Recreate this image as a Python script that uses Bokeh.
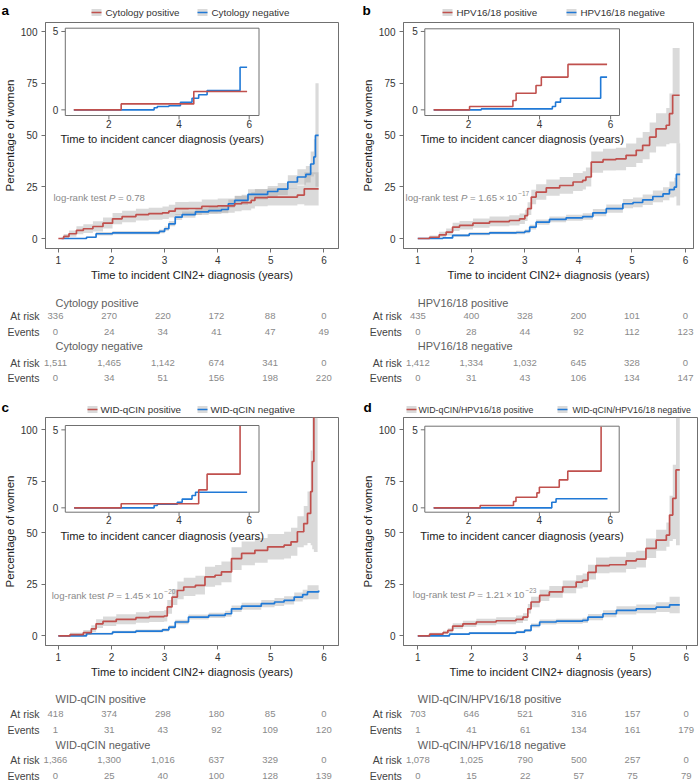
import math
from bokeh.plotting import figure
from bokeh.models import Range1d, FixedTicker
from bokeh.layouts import column, row
from bokeh.embed import file_html
from bokeh.resources import INLINE
from bokeh.core.properties import value

FONT = "Liberation Sans"
RED = "#c0504d"
BLUE = "#2079d6"
BAND = "#a8a8a8"
AXC = "#707070"

# ---------------- data ----------------
main_xticks = [1, 2, 3, 4, 5, 6]
main_yticks = [0, 25, 50, 75, 100]
inset_xticks = [2, 4, 6]
inset_yticks = [0, 5]
risk_times = [1, 2, 3, 4, 5, 6]

# panel a: cytology
cyto_labels = ["Cytology positive", "Cytology negative"]
cyto_pos_x = [1.0, 1.1, 1.2, 1.34, 1.47, 1.65, 1.84, 2.02, 2.2, 2.46, 2.7, 2.96, 3.08, 3.2, 3.45, 3.7, 4.0, 4.32, 4.45, 4.63, 4.7, 4.94, 5.5, 5.63, 5.9]
cyto_pos_y = [0, 1.0, 2.3, 3.9, 4.7, 5.8, 7.4, 9.5, 10.6, 11.5, 12.0, 12.4, 13.2, 14.4, 14.5, 15.5, 15.8, 16.8, 17.3, 18.4, 19.7, 20.0, 21.0, 24.0, 24.0]
cyto_pos_lo = [0, 0, 0.8, 2.0, 2.6, 3.4, 4.8, 6.9, 7.9, 8.7, 9.1, 9.4, 10.1, 11.3, 11.4, 12.2, 12.4, 13.2, 13.6, 14.5, 15.6, 15.9, 16.5, 16.0, 16.0]
cyto_pos_hi = [0, 2.2, 3.9, 5.9, 6.9, 8.3, 10.1, 12.3, 13.4, 14.4, 14.9, 15.4, 16.3, 17.6, 17.7, 18.9, 19.3, 20.5, 21.1, 22.4, 23.9, 24.3, 25.6, 32.0, 32.0]
cyto_neg_x = [1.06, 1.53, 1.71, 2.02, 2.9, 3.0, 3.08, 3.2, 3.33, 3.58, 3.83, 4.07, 4.2, 4.32, 4.57, 4.94, 5.13, 5.32, 5.5, 5.66, 5.75, 5.81, 5.84, 5.9]
cyto_neg_y = [0, 0.6, 2.3, 2.7, 3.4, 4.7, 7.1, 10.3, 11.5, 12.9, 13.5, 14.0, 16.8, 18.4, 21.3, 22.7, 23.9, 27.3, 29.7, 31.0, 36.0, 39.4, 49.8, 49.8]
cyto_neg_lo = [0, 0.2, 1.5, 1.9, 2.5, 3.7, 5.9, 8.9, 10.0, 11.3, 11.8, 12.2, 14.8, 16.2, 18.8, 20.0, 21.0, 24.0, 26.0, 27.0, 30.0, 31.0, 25.0, 25.0]
cyto_neg_hi = [0, 1.0, 3.2, 3.6, 4.4, 5.8, 8.4, 11.8, 13.0, 14.6, 15.3, 15.9, 18.9, 20.6, 23.8, 25.4, 26.8, 30.6, 33.5, 35.0, 42.0, 48.0, 75.0, 75.0]
cyto_inset_pos_x = [1.0, 2.35, 4.42, 5.94]
cyto_inset_pos_y = [0, 0.38, 1.17, 1.17]
cyto_inset_neg_x = [1.0, 3.29, 3.38, 3.71, 4.04, 4.37, 4.56, 4.8, 5.74, 5.94]
cyto_inset_neg_y = [0, 0.13, 0.21, 0.26, 0.49, 0.74, 0.96, 1.23, 2.72, 2.72]
cyto_pos_at_risk = [336, 270, 220, 172, 88, 0]
cyto_pos_events = [0, 24, 34, 41, 47, 49]
cyto_neg_at_risk = [1511, 1465, 1142, 674, 341, 0]
cyto_neg_events = [0, 34, 51, 156, 198, 220]
cyto_p = ("0.78", None)

# panel b: HPV16/18
hpv_labels = ["HPV16/18 positive", "HPV16/18 negative"]
hpv_pos_x = [1.0, 1.22, 1.4, 1.53, 1.65, 1.78, 2.03, 2.34, 2.71, 2.9, 3.0, 3.05, 3.12, 3.21, 3.4, 3.65, 3.9, 4.08, 4.14, 4.24, 4.46, 4.7, 4.89, 5.08, 5.2, 5.33, 5.45, 5.64, 5.7, 5.76, 5.89]
hpv_pos_y = [0, 0.6, 1.8, 3.1, 5.5, 6.3, 7.4, 8.2, 8.7, 9.5, 11.1, 14.4, 20.0, 22.4, 24.5, 25.6, 27.3, 28.1, 29.7, 36.9, 38.1, 38.5, 40.2, 42.6, 45.0, 49.0, 53.0, 54.7, 60.3, 69.2, 69.2]
hpv_pos_lo = [0, 0, 0.5, 1.5, 3.6, 4.3, 5.2, 5.9, 6.3, 7.0, 8.4, 11.4, 16.5, 18.7, 20.6, 21.6, 23.0, 23.7, 25.1, 31.8, 32.8, 33.0, 34.5, 36.5, 38.3, 41.5, 44.5, 45.5, 46.0, 46.0, 46.0]
hpv_pos_hi = [0, 1.5, 3.3, 4.8, 7.6, 8.5, 9.7, 10.6, 11.2, 12.1, 13.9, 17.5, 23.5, 26.2, 28.5, 29.7, 31.6, 32.5, 34.3, 42.0, 43.4, 43.9, 45.9, 48.7, 51.5, 56.0, 60.5, 63.0, 70.0, 92.0, 92.0]
hpv_neg_x = [1.0, 1.47, 1.65, 1.96, 2.34, 2.84, 3.0, 3.09, 3.21, 3.46, 3.77, 4.08, 4.27, 4.52, 4.83, 5.02, 5.2, 5.39, 5.58, 5.7, 5.79, 5.83, 5.9]
hpv_neg_y = [0, 0.3, 1.5, 2.3, 2.7, 2.9, 3.4, 5.5, 7.9, 9.2, 10.0, 10.6, 12.4, 14.4, 16.8, 17.4, 18.7, 20.3, 21.6, 23.6, 24.8, 31.0, 31.0]
hpv_neg_lo = [0, 0, 0.9, 1.6, 2.0, 2.1, 2.5, 4.4, 6.6, 7.8, 8.6, 9.1, 10.7, 12.5, 14.6, 15.1, 16.2, 17.5, 18.5, 19.8, 20.3, 16.0, 16.0]
hpv_neg_hi = [0, 0.6, 2.1, 3.0, 3.5, 3.7, 4.3, 6.6, 9.2, 10.6, 11.5, 12.2, 14.2, 16.4, 19.1, 19.8, 21.3, 23.2, 24.8, 27.5, 29.4, 46.0, 46.0]
hpv_inset_pos_x = [1.02, 2.03, 3.25, 3.34, 3.9, 4.05, 4.8, 5.9]
hpv_inset_pos_y = [0, 0.21, 0.6, 1.06, 1.55, 2.09, 2.9, 2.9]
hpv_inset_neg_x = [1.02, 2.36, 4.36, 4.45, 4.59, 5.72, 5.9]
hpv_inset_neg_y = [0, 0.06, 0.21, 0.49, 0.74, 2.09, 2.09]
hpv_pos_at_risk = [435, 400, 328, 200, 101, 0]
hpv_pos_events = [0, 28, 44, 92, 112, 123]
hpv_neg_at_risk = [1412, 1334, 1032, 645, 328, 0]
hpv_neg_events = [0, 31, 43, 106, 134, 147]
hpv_p = ("1.65\u2009\u00d7\u200910", "\u221217")

# panel c: WID-qCIN
wid_labels = ["WID-qCIN positive", "WID-qCIN negative"]
wid_pos_x = [1.0, 1.22, 1.47, 1.62, 1.71, 1.84, 2.09, 2.46, 2.71, 2.99, 3.05, 3.14, 3.24, 3.36, 3.58, 3.76, 3.95, 4.07, 4.26, 4.45, 4.7, 4.94, 5.25, 5.38, 5.5, 5.62, 5.69, 5.75, 5.78, 5.81, 5.88]
wid_pos_y = [0, 0.6, 1.5, 3.4, 5.8, 7.0, 8.0, 8.8, 9.3, 9.6, 14.0, 18.8, 22.0, 23.7, 24.5, 28.6, 29.4, 31.0, 37.5, 40.0, 41.5, 43.2, 44.0, 45.6, 50.5, 54.5, 59.4, 70.0, 84.6, 110.0, 110.0]
wid_pos_lo = [0, 0, 0.4, 1.8, 3.8, 4.8, 5.6, 6.3, 6.7, 6.9, 10.7, 15.0, 17.8, 19.3, 20.0, 23.8, 24.5, 26.0, 32.0, 34.2, 35.5, 37.0, 37.5, 38.8, 43.0, 44.0, 45.0, 44.0, 42.0, 40.7, 40.7]
wid_pos_hi = [0, 1.5, 2.8, 5.1, 8.0, 9.4, 10.5, 11.4, 12.0, 12.4, 17.4, 22.7, 26.3, 28.2, 29.1, 33.5, 34.4, 36.1, 43.0, 45.8, 47.5, 49.4, 50.5, 52.4, 58.0, 63.0, 70.0, 90.0, 110.0, 110.0, 110.0]
wid_neg_x = [1.0, 1.53, 2.02, 2.46, 2.96, 3.08, 3.2, 3.45, 3.83, 4.14, 4.26, 4.45, 4.82, 5.07, 5.25, 5.44, 5.6, 5.69, 5.9]
wid_neg_y = [0, 1.0, 1.8, 2.3, 2.9, 4.2, 6.7, 9.1, 9.9, 10.7, 13.1, 14.4, 15.6, 16.4, 17.2, 18.8, 20.0, 21.3, 22.0]
wid_neg_lo = [0, 0.5, 1.2, 1.6, 2.1, 3.3, 5.6, 7.9, 8.6, 9.3, 11.5, 12.7, 13.8, 14.5, 15.2, 16.6, 17.6, 17.8, 17.5]
wid_neg_hi = [0, 1.5, 2.4, 3.0, 3.7, 5.1, 7.8, 10.3, 11.2, 12.1, 14.7, 16.1, 17.4, 18.3, 19.2, 21.0, 22.4, 24.5, 27.0]
wid_inset_pos_x = [1.01, 2.35, 4.56, 4.8, 5.74]
wid_inset_pos_y = [0, 0.26, 1.15, 2.16, 5.25]
wid_inset_neg_x = [1.01, 3.29, 3.38, 3.95, 4.09, 4.37, 4.47, 5.94]
wid_inset_neg_y = [0, 0.15, 0.23, 0.36, 0.56, 0.79, 1.0, 1.0]
wid_pos_at_risk = [418, 374, 298, 180, 85, 0]
wid_pos_events = [1, 31, 43, 92, 109, 120]
wid_neg_at_risk = [1366, 1300, 1016, 637, 329, 0]
wid_neg_events = [0, 25, 40, 100, 128, 139]
wid_p = ("1.45\u2009\u00d7\u200910", "\u221220")

# panel d: WID-qCIN/HPV16/18
comb_labels = ["WID-qCIN/HPV16/18 positive", "WID-qCIN/HPV16/18 negative"]
comb_pos_x = [1.0, 1.22, 1.47, 1.56, 1.65, 1.84, 2.09, 2.46, 2.83, 2.96, 3.05, 3.11, 3.27, 3.45, 3.7, 3.95, 4.07, 4.17, 4.32, 4.57, 4.88, 5.07, 5.25, 5.44, 5.63, 5.69, 5.75, 5.81, 5.88]
comb_pos_y = [0, 0.8, 1.5, 2.6, 4.7, 5.8, 6.7, 7.3, 8.0, 9.1, 13.1, 16.4, 19.6, 21.3, 23.7, 26.1, 26.9, 30.8, 34.1, 34.5, 36.4, 37.2, 42.4, 46.4, 48.9, 58.6, 66.7, 80.5, 80.5]
comb_pos_lo = [0, 0.2, 0.7, 1.5, 3.3, 4.3, 5.1, 5.6, 6.2, 7.2, 10.8, 13.9, 16.9, 18.5, 20.7, 22.9, 23.6, 27.3, 30.4, 30.7, 32.4, 33.1, 37.8, 41.3, 43.2, 46.0, 47.0, 44.0, 44.0]
comb_pos_hi = [0, 1.5, 2.4, 3.7, 6.1, 7.3, 8.3, 9.0, 9.8, 11.0, 15.4, 19.0, 22.4, 24.2, 26.8, 29.4, 30.3, 34.5, 38.0, 38.4, 40.5, 41.3, 47.2, 51.5, 55.0, 68.0, 83.0, 110.0, 110.0]
comb_neg_x = [1.0, 1.59, 1.96, 2.83, 2.99, 3.11, 3.27, 3.58, 4.07, 4.17, 4.45, 4.7, 5.07, 5.44, 5.69, 5.88]
comb_neg_y = [0, 0.8, 1.3, 1.8, 2.6, 5.0, 6.7, 7.1, 7.5, 9.1, 10.7, 12.3, 13.1, 13.9, 15.0, 15.0]
comb_neg_lo = [0, 0.4, 0.8, 1.2, 1.9, 4.0, 5.5, 5.9, 6.2, 7.6, 9.0, 10.3, 11.0, 11.5, 11.0, 11.0]
comb_neg_hi = [0, 1.2, 1.8, 2.4, 3.3, 6.0, 7.9, 8.3, 8.8, 10.6, 12.4, 14.3, 15.2, 16.3, 19.0, 19.0]
comb_inset_pos_x = [1.02, 2.33, 3.27, 3.34, 3.93, 4.0, 4.56, 4.8, 5.74]
comb_inset_pos_y = [0, 0.15, 0.41, 0.68, 0.96, 1.32, 1.79, 2.35, 5.2]
comb_inset_neg_x = [1.02, 4.35, 4.47, 5.92]
comb_inset_neg_y = [0, 0.36, 0.58, 0.58]
comb_pos_at_risk = [703, 646, 521, 316, 157, 0]
comb_pos_events = [1, 41, 61, 134, 161, 179]
comb_neg_at_risk = [1078, 1025, 790, 500, 257, 0]
comb_neg_events = [0, 15, 22, 57, 75, 79]
comb_p = ("1.21\u2009\u00d7\u200910", "\u221223")

# ---------------- layout (page pixels) ----------------
CW = {" ": 278, "\u2009": 200, "-": 333, ".": 278, ",": 278, "=": 584, "\u00d7": 584, "\u2212": 584,
      "l": 222, "i": 222, "o": 556, "g": 556, "r": 333, "a": 556, "n": 556, "k": 500,
      "t": 278, "e": 556, "s": 500, "P": 667}


def tw(s, size):
    return sum(CW.get(c, 556) for c in s) * size / 1000.0


panels = [
    dict(letter="a", labels=cyto_labels,
         pos=(cyto_pos_x, cyto_pos_y, cyto_pos_lo, cyto_pos_hi),
         neg=(cyto_neg_x, cyto_neg_y, cyto_neg_lo, cyto_neg_hi),
         ipos=(cyto_inset_pos_x, cyto_inset_pos_y), ineg=(cyto_inset_neg_x, cyto_inset_neg_y),
         risk=(cyto_pos_at_risk, cyto_pos_events, cyto_neg_at_risk, cyto_neg_events), pval=cyto_p,
         borders=(42, 11, 2, 42), frame=(296, 226), xr=(0.7577, 6.274), yr=(-4.83, 104.35),
         box=(20, 215.7, 5.7, 93), ix=(0.757, 6.28), iy=(-0.36, 5.21),
         head_h=20, leg=(91, 105, 197, 211, 12, "9.8px"), tag=(0, 9.5),
         pxy=(8, 175), tab_h=103, tab_rows=[12, 25, 41, 55, 72, 87]),
    dict(letter="b", labels=hpv_labels,
         pos=(hpv_pos_x, hpv_pos_y, hpv_pos_lo, hpv_pos_hi),
         neg=(hpv_neg_x, hpv_neg_y, hpv_neg_lo, hpv_neg_hi),
         ipos=(hpv_inset_pos_x, hpv_inset_pos_y), ineg=(hpv_inset_neg_x, hpv_inset_neg_y),
         risk=(hpv_pos_at_risk, hpv_pos_events, hpv_neg_at_risk, hpv_neg_events), pval=hpv_p,
         borders=(54, 6, 2, 42), frame=(290, 226), xr=(0.7329, 6.1494), yr=(-4.83, 104.35),
         box=(21.3, 216, 6.3, 93), ix=(0.77, 6.25), iy=(-0.36, 5.17),
         head_h=20, leg=(93, 107, 217, 231, 12, "9.8px"), tag=(12, 9.5),
         pxy=(2, 175), tab_h=103, tab_rows=[12, 25, 41, 55, 72, 87]),
    dict(letter="c", labels=wid_labels,
         pos=(wid_pos_x, wid_pos_y, wid_pos_lo, wid_pos_hi),
         neg=(wid_neg_x, wid_neg_y, wid_neg_lo, wid_neg_hi),
         ipos=(wid_inset_pos_x, wid_inset_pos_y), ineg=(wid_inset_neg_x, wid_inset_neg_y),
         risk=(wid_pos_at_risk, wid_pos_events, wid_neg_at_risk, wid_neg_events), pval=wid_p,
         borders=(42, 11, 2, 43), frame=(296, 228), xr=(0.7577, 6.274), yr=(-4.71, 105.97),
         box=(20, 215.7, 8, 94.7), ix=(0.757, 6.28), iy=(-0.28, 5.28),
         head_h=22, leg=(87, 100, 197, 210, 16, "9.8px"), tag=(0, 13.5),
         pxy=(6.3, 178), tab_h=95, tab_rows=[10, 25, 41, 56, 71, 87]),
    dict(letter="d", labels=comb_labels,
         pos=(comb_pos_x, comb_pos_y, comb_pos_lo, comb_pos_hi),
         neg=(comb_neg_x, comb_neg_y, comb_neg_lo, comb_neg_hi),
         ipos=(comb_inset_pos_x, comb_inset_pos_y), ineg=(comb_inset_neg_x, comb_inset_neg_y),
         risk=(comb_pos_at_risk, comb_pos_events, comb_neg_at_risk, comb_neg_events), pval=comb_p,
         borders=(54, 2, 2, 43), frame=(294, 228), xr=(0.7336, 6.2105), yr=(-4.71, 105.97),
         box=(21.3, 215.7, 8.7, 94.7), ix=(0.77, 6.25), iy=(-0.28, 5.23),
         head_h=22, leg=(57, 69, 208, 223, 16, "8.8px"), tag=(13, 13.5),
         pxy=(9.3, 177.3), tab_h=95, tab_rows=[10, 25, 41, 56, 71, 87]),
]


def txt(p, x, y, text, size, color, align="left", baseline="middle", style="normal", **kw):
    return p.text(x=x, y=y, text=text, text_font=value(FONT), text_font_size=size,
                  text_color=color, text_align=align, text_baseline=baseline,
                  text_font_style=style, **kw)


def plain_fig(w, h, xr, yr):
    return figure(width=w, height=h, x_range=xr, y_range=yr,
                  toolbar_location=None, output_backend="svg", min_border=0,
                  x_axis_type=None, y_axis_type=None, outline_line_color=None,
                  background_fill_color="white", border_fill_color="white")


def make_header(cfg):
    bl, br, bt, bb = cfg["borders"]
    W, H = cfg["frame"]
    w = bl + W + br
    hh = cfg["head_h"]
    hd = plain_fig(w, hh, Range1d(0, w), Range1d(hh, 0))
    tx, ty = cfg["tag"]
    txt(hd, [tx + 1], [ty], [cfg["letter"]], "13.5px", "black", baseline="middle", style="bold")
    s1, t1, s2, t2, cy, fs = cfg["leg"]
    for sx, tx_, lab, col in ((s1, t1, cfg["labels"][0], RED), (s2, t2, cfg["labels"][1], BLUE)):
        hd.rect(x=[sx + 5], y=[cy], width=10, height=7, fill_color=BAND, fill_alpha=0.42, line_color=None)
        hd.segment(x0=[sx], x1=[sx + 10], y0=[cy], y1=[cy], line_color=col, line_width=1.7)
        txt(hd, [tx_], [cy], [lab], fs, "#333333")
    return hd


def make_main(cfg):
    bl, br, bt, bb = cfg["borders"]
    W, H = cfg["frame"]
    x0, x1 = cfg["xr"]
    y0, y1 = cfg["yr"]
    p = figure(width=bl + W + br, height=bt + H + bb,
               x_range=Range1d(x0, x1), y_range=Range1d(y0, y1),
               toolbar_location=None, output_backend="svg",
               min_border_left=bl, min_border_right=br, min_border_top=bt, min_border_bottom=bb,
               background_fill_color="white", border_fill_color="white")
    p.outline_line_color = AXC
    p.grid.visible = False
    p.xaxis.ticker = FixedTicker(ticks=main_xticks)
    p.yaxis.ticker = FixedTicker(ticks=main_yticks)
    for ax in (p.xaxis, p.yaxis):
        ax.axis_line_color = AXC
        ax.major_tick_line_color = AXC
        ax.major_tick_out = 4
        ax.major_tick_in = 0
        ax.minor_tick_line_color = None
        ax.major_label_text_font = FONT
        ax.major_label_text_font_size = "10px"
        ax.major_label_text_color = "#333333"
        ax.axis_label_text_font = FONT
        ax.axis_label_text_font_style = "normal"
        ax.axis_label_text_color = "#222222"
        ax.axis_label_standoff = 2
    p.xaxis.major_label_standoff = 3
    p.yaxis.major_label_standoff = 4
    p.xaxis.axis_label = "Time to incident CIN2+ diagnosis (years)"
    p.xaxis.axis_label_text_font_size = "11.2px"
    p.yaxis.axis_label = "Percentage of women"
    p.yaxis.axis_label_text_font_size = "11.5px"

    px_, py_, plo, phi = cfg["pos"]
    nx_, ny_, nlo, nhi = cfg["neg"]
    p.varea_step(x=px_, y1=plo, y2=phi, step_mode="after", fill_color=BAND, fill_alpha=0.42)
    p.varea_step(x=nx_, y1=nlo, y2=nhi, step_mode="after", fill_color=BAND, fill_alpha=0.42)
    p.step(nx_, ny_, mode="after", line_color=BLUE, line_width=1.7)
    p.step(px_, py_, mode="after", line_color=RED, line_width=1.7)

    # inset drawn with its own ranges
    L, R, T, B = cfg["box"]
    ix0, ix1 = cfg["ix"]
    iy0, iy1 = cfg["iy"]
    sx = (ix1 - ix0) / (R - L)
    sy = (iy1 - iy0) / (B - T)
    p.extra_x_ranges = {"ix": Range1d(ix0 - L * sx, ix1 + (W - R) * sx)}
    p.extra_y_ranges = {"iy": Range1d(iy0 - (H - B) * sy, iy1 + T * sy)}
    rn = dict(x_range_name="ix", y_range_name="iy")
    p.quad(left=[ix0], right=[ix1], bottom=[iy0], top=[iy1], fill_color="white",
           line_color=AXC, line_width=1, **rn)
    p.segment(x0=[ix0] * len(inset_yticks), x1=[ix0 - 4 * sx] * len(inset_yticks),
              y0=inset_yticks, y1=inset_yticks, line_color=AXC, line_width=1, **rn)
    p.segment(x0=inset_xticks, x1=inset_xticks, y0=[iy0] * len(inset_xticks),
              y1=[iy0 - 4 * sy] * len(inset_xticks), line_color=AXC, line_width=1, **rn)
    txt(p, [ix0] * len(inset_yticks), inset_yticks, [str(t) for t in inset_yticks], "10px", "#333333",
        align="right", x_offset=-7, **rn)
    txt(p, inset_xticks, [iy0] * len(inset_xticks), [str(t) for t in inset_xticks], "10px", "#333333",
        align="center", baseline="top", y_offset=4, **rn)
    txt(p, [(ix0 + ix1) / 2], [iy0], ["Time to incident cancer diagnosis (years)"], "11.2px", "#222222",
        align="center", y_offset=23.5, **rn)
    inx, iny = cfg["ineg"]
    ipx, ipy = cfg["ipos"]
    p.step(inx, iny, mode="after", line_color=BLUE, line_width=1.6, **rn)
    p.step(ipx, ipy, mode="after", line_color=RED, line_width=1.6, **rn)

    # log-rank annotation
    dx, dy = cfg["pxy"]
    bx = x0 + dx * (x1 - x0) / W
    by = y1 - dy * (y1 - y0) / H
    fs = 9.6
    fss = "9.6px"
    gray = "#8a8a8a"
    txt(p, [bx], [by], ["log-rank test"], fss, gray)
    o = tw("log-rank test ", fs)
    txt(p, [bx], [by], ["P"], fss, gray, style="italic", x_offset=o)
    o += tw("P ", fs)
    mant, expo = cfg["pval"]
    t3 = "= " + mant
    txt(p, [bx], [by], [t3], fss, gray, x_offset=o)
    if expo:
        o += tw(t3, fs) + 1.0
        txt(p, [bx], [by], [expo], "6.5px", gray, x_offset=o, y_offset=-4)
    return p


def make_table(cfg):
    bl, br, bt, bb = cfg["borders"]
    W, H = cfg["frame"]
    x0, x1 = cfg["xr"]
    ppx = W / (x1 - x0)
    w = bl + W + br
    h = cfg["tab_h"]
    tx0 = x0 - bl / ppx
    t = plain_fig(w, h, Range1d(tx0, tx0 + w / ppx), Range1d(h, 0))
    rows_y = cfg["tab_rows"]
    pr, pe, nr, ne = cfg["risk"]
    groups = [(cfg["labels"][0], pr, pe), (cfg["labels"][1], nr, ne)]
    n = len(risk_times)
    for gi, (title, risk, ev) in enumerate(groups):
        ry = rows_y[gi * 3: gi * 3 + 3]
        txt(t, [risk_times[0]], [ry[0]], [title], "11px", "#5e5e5e")
        txt(t, [risk_times[0]] * 2, [ry[1], ry[2]], ["At risk", "Events"], "10.5px", "#444444",
            align="right", x_offset=-16)
        txt(t, risk_times, [ry[1]] * n, [f"{v:,}" for v in risk], "9.5px", "#8a8a8a", align="center")
        txt(t, risk_times, [ry[2]] * n, [f"{v:,}" for v in ev], "9.5px", "#8a8a8a", align="center")
    return t


heads = [make_header(c) for c in panels]
mains = [make_main(c) for c in panels]
tables = [make_table(c) for c in panels]

layout = column(row(heads[0], heads[1]), row(mains[0], mains[1]), row(tables[0], tables[1]),
                row(heads[2], heads[3]), row(mains[2], mains[3]), row(tables[2], tables[3]))

open("out.html", "w").write(file_html(layout, INLINE))
